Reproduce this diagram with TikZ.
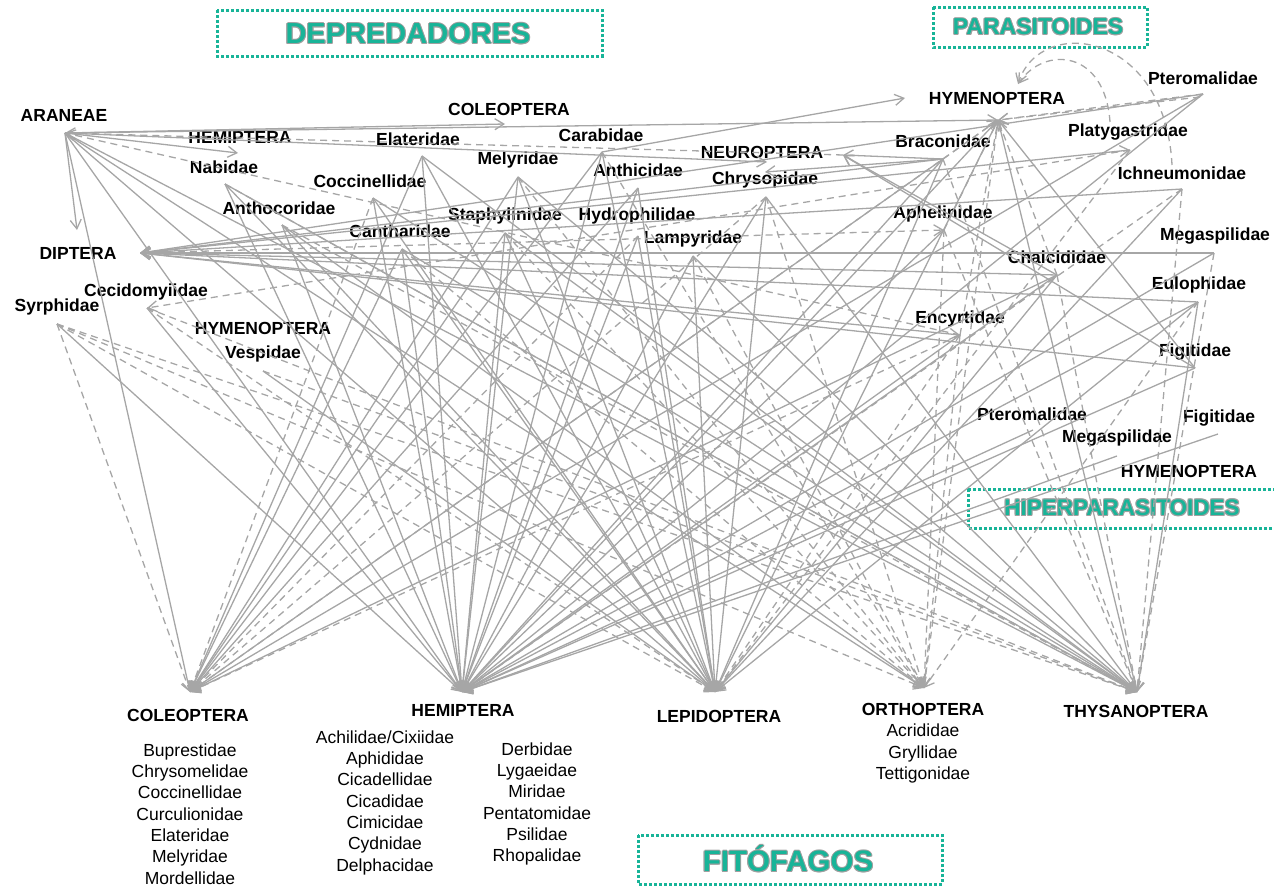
\documentclass[tikz,border=0pt]{standalone}
\usepackage{fontspec}
\setmainfont{Liberation Sans}
\usetikzlibrary{arrows.meta,calc}
\definecolor{edgegray}{RGB}{166,166,166}
\definecolor{tealc}{RGB}{24,180,152}
\definecolor{haloc}{RGB}{120,120,120}
\tikzset{
  lab/.style={font=\fontsize{17.5}{21}\selectfont\bfseries, inner sep=0pt},
  fam/.style={font=\fontsize{17.5}{21.3}\selectfont, inner sep=0pt, align=center, anchor=north},
  e/.style={draw=edgegray, line width=1.3pt, -{Straight Barb[length=9pt,width=11pt]}},
  ed/.style={e, dash pattern=on 7pt off 5pt},
  both/.style={{Straight Barb[length=9pt,width=11pt]}-{Straight Barb[length=9pt,width=11pt]}},
  tbox/.style={draw=tealc, line width=3pt, dash pattern=on 3pt off 2pt},
  ttl/.style={inner sep=0pt, text=tealc},
  halo/.style={inner sep=0pt, text=haloc!70},
}
\newcommand{\outlinedtitle}[4]{% name, pos, size, text
  \foreach \dx/\dy in {-1/0,1/0,0/-1,0/1,-0.8/-0.8,0.8/0.8,-0.8/0.8,0.8/-0.8}
    \node[halo, font=\fontsize{#3}{#3}\selectfont\bfseries] at ($(#2)+(\dx,\dy)$) {#4};
  \node[ttl, font=\fontsize{#3}{#3}\selectfont\bfseries] (#1) at (#2) {#4};
}
\begin{document}
\begin{tikzpicture}[x=1pt,y=-1pt]
\useasboundingbox (0,0) rectangle (1274,889);
% ---------- title boxes ----------
\draw[tbox] (217,10) rectangle (602,56);
\draw[tbox] (933,7) rectangle (1147,47);
\draw[tbox] (968,489) -- (1280,489) (968,489) -- (968,528) -- (1280,528);
\draw[tbox] (638,835) rectangle (942,884);
\outlinedtitle{tDep}{408,34}{29}{DEPREDADORES}
\outlinedtitle{tPar}{1038,27}{23}{PARASITOIDES}
\outlinedtitle{tHip}{1122,508}{22.5}{HIPERPARASITOIDES}
\outlinedtitle{tFit}{788,859}{29.5}{FIT\'OFAGOS}
% ---------- predator labels ----------
\node[lab] (lARA) at (64,115) {ARANEAE};
\node[lab] (lPCOL) at (509,109) {COLEOPTERA};
\node[lab] (lPHEM) at (240,137) {HEMIPTERA};
\node[lab] (lEla) at (418,139) {Elateridae};
\node[lab] (lCar) at (601,135) {Carabidae};
\node[lab] (lNab) at (224,167) {Nabidae};
\node[lab] (lMel) at (518,160) {Melyridae};
\node[lab] (lNEU) at (762,152) {NEUROPTERA};
\node[lab] (lAnt) at (638,170) {Anthicidae};
\node[lab] (lChr) at (765,180) {Chrysopidae};
\node[lab] (lCoc) at (370,181) {Coccinellidae};
\node[lab] (lAntho) at (279,208) {Anthocoridae};
\node[lab] (lSta) at (505,216) {Staphylinidae};
\node[lab] (lHyd) at (637,216) {Hydrophilidae};
\node[lab] (lCan) at (400,231) {Cantharidae};
\node[lab] (lLam) at (693,239) {Lampyridae};
\node[lab] (lDIP) at (78,253) {DIPTERA};
\node[lab] (lCec) at (146,292) {Cecidomyiidae};
\node[lab] (lSyr) at (57,307) {Syrphidae};
\node[lab] (lPHYMd) at (263,328) {HYMENOPTERA};
\node[lab] (lVes) at (263,354) {Vespidae};
% ---------- parasitoid labels ----------
\node[lab] (lPHYM) at (997,98) {HYMENOPTERA};
\node[lab] (lPte) at (1203,78) {Pteromalidae};
\node[lab] (lBra) at (943,141) {Braconidae};
\node[lab] (lPla) at (1128,132) {Platygastridae};
\node[lab] (lIch) at (1182,173) {Ichneumonidae};
\node[lab] (lAph) at (943,214) {Aphelinidae};
\node[lab] (lMeg) at (1215,236) {Megaspilidae};
\node[lab] (lCha) at (1057,257) {Chalcididae};
\node[lab] (lEul) at (1199,285) {Eulophidae};
\node[lab] (lEnc) at (960,319) {Encyrtidae};
\node[lab] (lFig) at (1195,352) {Figitidae};
% ---------- hyperparasitoid labels ----------
\node[lab] (lHPte) at (1032,414) {Pteromalidae};
\node[lab] (lHFig) at (1219,418) {Figitidae};
\node[lab] (lHMeg) at (1117,438) {Megaspilidae};
\node[lab] (lHHYM) at (1189,471) {HYMENOPTERA};
% ---------- phytophagous labels ----------
\node[lab] (lCOL) at (188,715) {COLEOPTERA};
\node[fam] (fCOL) at (190,743.5) {Buprestidae\\Chrysomelidae\\Coccinellidae\\Curculionidae\\Elateridae\\Melyridae\\Mordellidae};
\node[lab] (lHEM) at (463,710) {HEMIPTERA};
\node[fam] (fHEM1) at (385,730.5) {Achilidae/Cixiidae\\Aphididae\\Cicadellidae\\Cicadidae\\Cimicidae\\Cydnidae\\Delphacidae};
\node[fam] (fHEM2) at (537,742.5) {Derbidae\\Lygaeidae\\Miridae\\Pentatomidae\\Psilidae\\Rhopalidae};
\node[lab] (lLEP) at (719,716) {LEPIDOPTERA};
\node[lab] (lORT) at (923,709) {ORTHOPTERA};
\node[fam] (fORT) at (923,724) {Acrididae\\Gryllidae\\Tettigonidae};
\node[lab] (lTHY) at (1136,711) {THYSANOPTERA};
% ---------- connection points ----------
\coordinate (ara) at (65,133);
\coordinate (pcolin) at (505,124);
\coordinate (phemin) at (238,153);
\coordinate (neuin) at (767,162);
\coordinate (neuin2) at (765,172);
\coordinate (neu) at (843,155);
\coordinate (dipin) at (77,230);
\coordinate (dip) at (140,253);
\coordinate (phym) at (998,120);
\coordinate (phymL) at (905,98);
\coordinate (phymtop) at (1018,84);
\coordinate (ela) at (422,156);
\coordinate (car) at (602,152);
\coordinate (mel) at (518,177);
\coordinate (ant) at (638,188);
\coordinate (chr) at (766,197);
\coordinate (coc) at (373,198);
\coordinate (nab) at (225,184);
\coordinate (antho) at (282,225);
\coordinate (sta) at (505,233);
\coordinate (hyd) at (638,236);
\coordinate (can) at (402,249);
\coordinate (lam) at (693,256);
\coordinate (cec) at (147,308);
\coordinate (syr) at (57,324);
\coordinate (ves) at (263,371);
\coordinate (bra) at (943,159);
\coordinate (pte) at (1203,94);
\coordinate (pte2) at (1200,97);
\coordinate (pla) at (1130,150);
\coordinate (platop) at (1110,122);
\coordinate (ich) at (1182,189);
\coordinate (ichtop) at (1172,165);
\coordinate (aph) at (944,230);
\coordinate (meg) at (1214,253);
\coordinate (cha) at (1057,275);
\coordinate (eul) at (1198,302);
\coordinate (enc) at (960,335);
\coordinate (fig) at (1195,368);
\coordinate (hpte) at (1033,430);
\coordinate (hmeg) at (1117,456);
\coordinate (hfig) at (1218,434);
\coordinate (C) at (190,692);
\coordinate (H) at (462,692);
\coordinate (L) at (715,692);
\coordinate (O) at (924,688);
\coordinate (T) at (1137,692);
% ---------- solid connectors ----------
\foreach \s/\t in {ara/C,ara/H,ara/L,ara/O,ara/T,ara/pcolin,ara/phemin,ara/neuin,ara/dipin,ara/phym,
  nab/H,nab/L,nab/T,coc/H,coc/L,coc/T,antho/H,antho/L,antho/O,
  can/C,can/H,can/L,can/T,ela/C,ela/H,ela/L,ela/T,mel/C,mel/H,mel/L,mel/T,
  car/C,car/H,car/L,car/phymL,ant/C,ant/H,ant/L,sta/C,sta/H,sta/L,sta/T,
  hyd/H,hyd/L,lam/H,lam/L,lam/T,chr/H,chr/L,chr/T,cec/H,syr/H,ves/L,
  bra/neu,bra/neuin2,bra/dip,bra/H,bra/L,bra/C,phym/T,phym/L,phym/H,
  fig/phym,fig/neu,fig/dip,fig/H,pte/H,pte/C,pte/dip,ich/dip,ich/L,aph/H,
  meg/dip,meg/H,cha/dip,cha/L,cha/H,cha/C,cha/neu,
  eul/dip,eul/L,eul/H,eul/T,enc/H,hpte/H,hmeg/H,hfig/H}
  \draw[e] (\s) -- (\t);
% ---------- dashed connectors ----------
\foreach \s/\t in {coc/C,antho/T,can/O,mel/O,car/O,sta/O,hyd/C,lam/O,chr/C,chr/O,
  cec/L,cec/T,syr/C,syr/T,syr/O,syr/L,ves/T,nab/T,
  enc/ara,neu/ara,pte/phym,pte2/phym,pla/cec,ich/H,aph/T,aph/phym,
  enc/C,enc/L,enc/phym,cha/phym,cha/T,bra/T,bra/phym,phym/O,phym/C,aph/O,enc/O,
  pla/L,ich/T,meg/T,eul/O}
  \draw[ed] (\s) -- (\t);
% ---------- two-headed connectors ----------
\draw[e, both] (dip) -- (enc);
\draw[e, both] (dip) -- (pla);
\draw[ed, both] (dip) -- (aph);
% ---------- curved dashed connectors ----------
\draw[ed] (platop) .. controls (1105,50) and (1045,45) .. (phymtop);
\draw[ed] (ichtop) .. controls (1165,30) and (1040,15) .. (phymtop);
\end{tikzpicture}
\end{document}
